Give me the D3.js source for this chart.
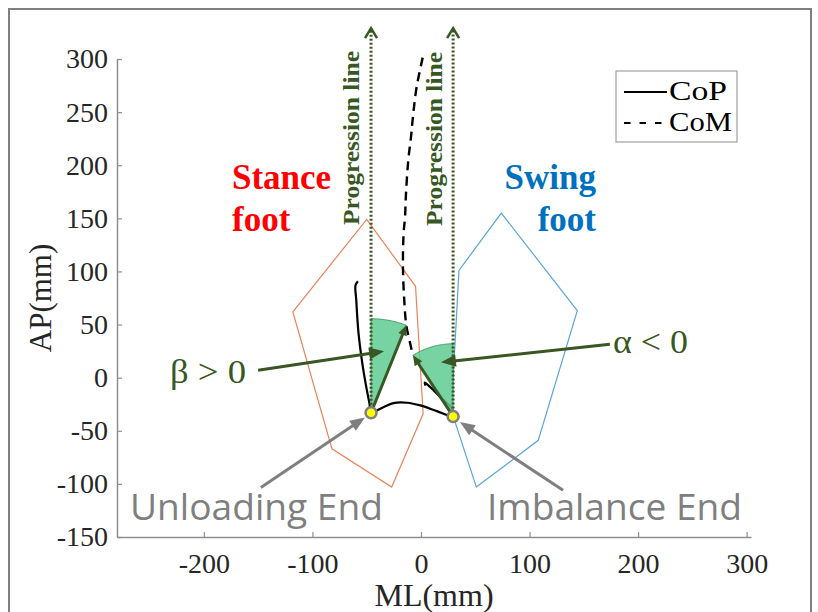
<!DOCTYPE html>
<html>
<head>
<meta charset="utf-8">
<script src="https://cdn.jsdelivr.net/npm/d3@7"></script>
<style>
  body { margin: 0; background: #fff; }
  svg { display: block; }
</style>
</head>
<body>
<svg id="chart" width="818" height="612"></svg>
<script>
// ---- Data (mm) ----
const stanceFoot = [[-50, 149], [-5, 86], [2, -34], [-27, -103], [-82, -67], [-118, 62]];
const swingFoot  = [[74, 155], [144, 63], [108, -59], [51, -103], [28, -31], [35, 101]];

// Centre of pressure trajectory
const copPath = [
  [-58.1, 90.8], [-60.3, 87], [-59.6, 72.9], [-57.5, 41.5], [-53.5, 10],
  [-49.8, -12], [-47.4, -24.5], [-46, -33],
  [-37.5, -29.2], [-25.3, -23.9], [-12.9, -23.6], [-0.6, -26.1], [14.7, -31.5], [29.6, -36.5],
  [28.6, -29.2], [17.8, -18.3], [8.6, -8.9], [3.5, -4.5], [4.2, -7.5]
];

// Centre of mass trajectory
const comPath = [
  [1.6, 301.3], [-4, 273.6], [-7.1, 248.6], [-9.2, 226.5], [-11.7, 204.6],
  [-13.8, 173.3], [-14.7, 151.2], [-16, 135.7], [-16.6, 104.2], [-15.4, 72.9],
  [-13.5, 49.3], [-9.9, 32], [-7.4, 21]
];

const unloadingEnd   = [-46, -33];
const imbalanceEnd   = [29.6, -36.5];
const comAtUnloading = [-13.5, 49.3];
const comAtImbalance = [-7.4, 21];
const progressionTop = 329;

const xTicks = [-200, -100, 0, 100, 200, 300];
const yTicks = [-150, -100, -50, 0, 50, 100, 150, 200, 250, 300];

const angleLabels = ["\u03B2 > 0", "\u03B1 < 0"];
const eventLabels = ["Unloading End", "Imbalance End"];

// Annotation arrows: [from, to]
const betaArrow      = [[-150, 7], [-34, 24.8]];
const alphaArrow     = [[174, 31.4], [18.4, 14.4]];
const unloadArrow    = [[-147.5, -103.3], [-51.6, -37.4]];
const imbalanceArrow = [[130.9, -106.1], [35.9, -41.8]];

const legendItems = [
  { label: "CoP", dash: null, len: 58 },
  { label: "CoM", dash: "6.5,9", len: 63 }
];

// ---- Scales ----
const x = d3.scaleLinear().domain([-280, 304]).range([117, 751]);
const y = d3.scaleLinear().domain([-150, 300]).range([537, 59]);
const px = p => [x(p[0]), y(p[1])];

const svg = d3.select("#chart");
const serif = "'Liberation Serif', 'Times New Roman', serif";
const green = "#385723";
const grey = "#7f7f7f";

svg.append("rect").attr("width", 818).attr("height", 612).attr("fill", "#fff");

// Figure frame
svg.append("rect")
  .attr("x", 9).attr("y", 9).attr("width", 802).attr("height", 640)
  .attr("fill", "none").attr("stroke", "#808080").attr("stroke-width", 2);

// ---- Axes ----
const fmt = d => String(d);
const xAxis = svg.append("g")
  .attr("transform", `translate(0,${y(-150)})`)
  .call(d3.axisBottom(x).tickValues(xTicks).tickFormat(fmt).tickSize(-5).tickSizeOuter(0).tickPadding(16));
const yAxis = svg.append("g")
  .attr("transform", `translate(${x(-280)},0)`)
  .call(d3.axisLeft(y).tickValues(yTicks).tickFormat(fmt).tickSize(-5).tickSizeOuter(0).tickPadding(9));

[xAxis, yAxis].forEach(g => {
  g.select(".domain").attr("stroke", "#8f8f8f").attr("stroke-width", 1.5);
  g.selectAll(".tick line").attr("stroke", "#8f8f8f").attr("stroke-width", 1.2);
  g.selectAll(".tick text")
    .attr("fill", "#262626")
    .style("font-family", serif)
    .style("font-size", "28px");
});

svg.append("text")
  .attr("x", (x(-280) + x(304)) / 2).attr("y", 606)
  .attr("text-anchor", "middle")
  .style("font-family", serif).style("font-size", "32px").attr("fill", "#262626")
  .text("ML(mm)");

svg.append("text")
  .attr("transform", `translate(51,${(y(-150) + y(300)) / 2}) rotate(-90)`)
  .attr("text-anchor", "middle")
  .style("font-family", serif).style("font-size", "31px").attr("fill", "#262626")
  .text("AP(mm)");

// ---- Foot outlines ----
const closed = d3.line().x(d => x(d[0])).y(d => y(d[1])).curve(d3.curveLinearClosed);
const smooth = d3.line().x(d => x(d[0])).y(d => y(d[1])).curve(d3.curveCatmullRom);

svg.append("path").attr("d", closed(stanceFoot))
  .attr("fill", "none").attr("stroke", "#e8845a").attr("stroke-width", 1.2);
svg.append("path").attr("d", closed(swingFoot))
  .attr("fill", "none").attr("stroke", "#5aa5da").attr("stroke-width", 1.2);

// ---- Trajectories ----
svg.append("path").attr("d", smooth(copPath))
  .attr("fill", "none").attr("stroke", "#000").attr("stroke-width", 2.2);
svg.append("path").attr("d", smooth(comPath))
  .attr("fill", "none").attr("stroke", "#000").attr("stroke-width", 2.4)
  .attr("stroke-dasharray", "9,6");

// ---- Angle wedges between progression line and CoM direction ----
function wedgePoints(apex, end) {
  const dx = end[0] - apex[0], dy = end[1] - apex[1];
  const r = Math.hypot(dx, dy);
  const a0 = Math.PI / 2, a1 = Math.atan2(dy, dx);
  const pts = [apex];
  const n = 40;
  for (let i = 0; i <= n; i++) {
    const t = a0 + (a1 - a0) * i / n;
    pts.push([apex[0] + r * Math.cos(t), apex[1] + r * Math.sin(t)]);
  }
  return pts;
}
[[unloadingEnd, comAtUnloading], [imbalanceEnd, comAtImbalance]].forEach(([a, e]) => {
  svg.append("path").attr("d", closed(wedgePoints(a, e)))
    .attr("fill", "#5fcb92").attr("fill-opacity", 0.85)
    .attr("stroke", "#3f9e66").attr("stroke-width", 1);
});

// ---- Progression lines ----
[unloadingEnd, imbalanceEnd].forEach(p => {
  const [x0, y0] = px(p);
  const yt = y(progressionTop);
  svg.append("line")
    .attr("x1", x0).attr("x2", x0).attr("y1", y0).attr("y2", yt + 1)
    .attr("stroke", green).attr("stroke-width", 3)
    .attr("stroke-dasharray", "2,2");
  svg.append("path")
    .attr("d", `M${x0 - 6},${yt + 10} L${x0},${yt} L${x0 + 6},${yt + 10}`)
    .attr("fill", "none").attr("stroke", green).attr("stroke-width", 2.5);
});

[[359, 138], [441.5, 139]].forEach(([tx, ty]) => {
  svg.append("text")
    .attr("transform", `translate(${tx},${ty}) rotate(-90)`)
    .attr("text-anchor", "middle")
    .attr("textLength", 174).attr("lengthAdjust", "spacingAndGlyphs")
    .style("font-family", serif).style("font-size", "24px").style("font-weight", "bold")
    .attr("fill", green)
    .text("Progression line");
});

// ---- Arrow helper ----
function arrow(from, to, color, width, headLen, headW) {
  const [x0, y0] = px(from), [x1, y1] = px(to);
  const ang = Math.atan2(y1 - y0, x1 - x0);
  const c = Math.cos(ang), s = Math.sin(ang);
  const bx = x1 - headLen * c, by = y1 - headLen * s;
  svg.append("line")
    .attr("x1", x0).attr("y1", y0).attr("x2", bx + 2 * c).attr("y2", by + 2 * s)
    .attr("stroke", color).attr("stroke-width", width);
  svg.append("path")
    .attr("d", `M${x1},${y1} L${bx - headW / 2 * s},${by + headW / 2 * c} L${bx + headW / 2 * s},${by - headW / 2 * c} Z`)
    .attr("fill", color);
}

// CoM direction lines from each event point
arrow(unloadingEnd, comAtUnloading, green, 3, 10, 9);
arrow(imbalanceEnd, comAtImbalance, green, 3, 10, 9);

// Event points
[unloadingEnd, imbalanceEnd].forEach(p => {
  svg.append("circle")
    .attr("cx", x(p[0])).attr("cy", y(p[1])).attr("r", 5.5)
    .attr("fill", "#ffff00").attr("stroke", grey).attr("stroke-width", 2.5);
});

// Callout arrows
arrow(betaArrow[0], betaArrow[1], green, 3, 15, 12);
arrow(alphaArrow[0], alphaArrow[1], green, 3, 15, 12);
arrow(unloadArrow[0], unloadArrow[1], grey, 3, 15, 12);
arrow(imbalanceArrow[0], imbalanceArrow[1], grey, 3, 15, 12);

// ---- Labels ----
svg.append("text").attr("x", 170).attr("y", 383)
  .attr("textLength", 76).attr("lengthAdjust", "spacingAndGlyphs")
  .style("font-family", serif).style("font-size", "34px").attr("fill", green)
  .text(angleLabels[0]);
svg.append("text").attr("x", 613).attr("y", 353)
  .attr("textLength", 75).attr("lengthAdjust", "spacingAndGlyphs")
  .style("font-family", serif).style("font-size", "34px").attr("fill", green)
  .text(angleLabels[1]);

const footLabel = (lines, xPos, anchor, color) => {
  lines.forEach((t, i) => {
    svg.append("text").attr("x", xPos).attr("y", 189 + i * 42)
      .attr("text-anchor", anchor)
      .style("font-family", serif).style("font-size", "35px").style("font-weight", "bold")
      .attr("fill", color).text(t);
  });
};
footLabel(["Stance", "foot"], 232, "start", "#ff0000");
footLabel(["Swing", "foot"], 596, "end", "#0070c0");

const sans = "'Open Sans', 'Noto Sans', sans-serif";
svg.append("text").attr("x", 130).attr("y", 520)
  .attr("textLength", 253).attr("lengthAdjust", "spacingAndGlyphs")
  .style("font-family", sans).style("font-size", "37px").attr("fill", grey)
  .text(eventLabels[0]);
svg.append("text").attr("x", 487).attr("y", 520)
  .attr("textLength", 255).attr("lengthAdjust", "spacingAndGlyphs")
  .style("font-family", sans).style("font-size", "37px").attr("fill", grey)
  .text(eventLabels[1]);

// ---- Legend ----
const legend = svg.append("g");
legend.append("rect")
  .attr("x", 616).attr("y", 71).attr("width", 121).attr("height", 71)
  .attr("fill", "#fff").attr("stroke", "#a0a0a0").attr("stroke-width", 1.2);
legendItems.forEach((d, i) => {
  const ly = 92 + i * 31;
  const ln = legend.append("line")
    .attr("x1", 624).attr("x2", 667).attr("y1", ly).attr("y2", ly)
    .attr("stroke", "#000").attr("stroke-width", 2);
  if (d.dash) ln.attr("stroke-dasharray", d.dash);
  legend.append("text").attr("x", 669).attr("y", ly + 8)
    .attr("textLength", d.len).attr("lengthAdjust", "spacingAndGlyphs")
    .style("font-family", serif).style("font-size", "27px").attr("fill", "#000")
    .text(d.label);
});
</script>
</body>
</html>
